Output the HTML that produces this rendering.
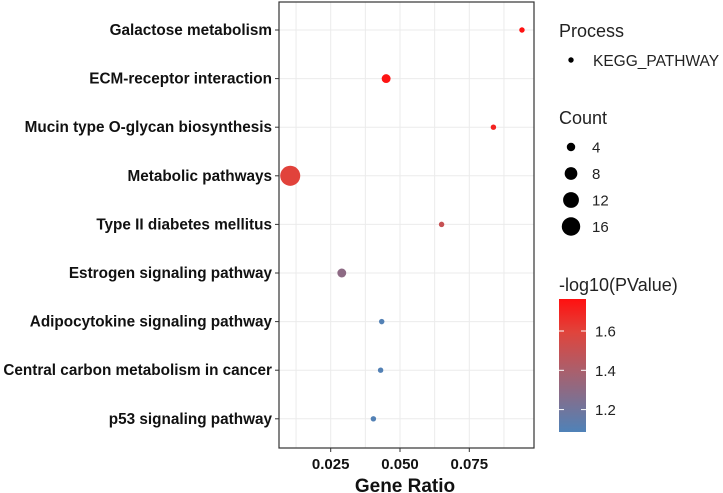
<!DOCTYPE html>
<html><head><meta charset="utf-8"><style>
body{margin:0;background:#fff;}
svg{display:block;font-family:"Liberation Sans",Arial,sans-serif;}
</style></head><body>
<svg id="chart" width="723" height="493" viewBox="0 0 723 493">
<defs><linearGradient id="cg" x1="0" y1="1" x2="0" y2="0">
<stop offset="0" stop-color="#4F82B8"/><stop offset="0.45" stop-color="#A8606E"/><stop offset="0.75" stop-color="#E0443C"/><stop offset="1" stop-color="#FF1010"/></linearGradient></defs>
<g id="grid"></g><g id="pts"></g><g id="axes"></g>
<g>
<text x="559" y="37" font-size="18" fill="#222">Process</text>
<circle cx="571" cy="60" r="2.7" fill="#000"/>
<text x="593" y="66" font-size="15.5" fill="#222">KEGG_PATHWAY</text>
<text x="559" y="124" font-size="18" fill="#222">Count</text>
<g id="sizeleg"></g>
<text x="559" y="291" font-size="18" fill="#222">-log10(PValue)</text>
<rect x="559" y="299" width="27" height="133" fill="url(#cg)"/>
<g id="cleg"></g>
</g>
</svg>
<script>
const categories=["Galactose metabolism","ECM-receptor interaction","Mucin type O-glycan biosynthesis","Metabolic pathways","Type II diabetes mellitus","Estrogen signaling pathway","Adipocytokine signaling pathway","Central carbon metabolism in cancer","p53 signaling pathway"];
const geneRatio=[0.094,0.045,0.0837,0.0104,0.065,0.029,0.0434,0.043,0.0404];
const counts=[2,4,2,17,2,4,2,2,2];
const pvals=[1.76,1.75,1.70,1.60,1.50,1.30,1.10,1.10,1.10];
const xTicks=[0.025,0.05,0.075];
const xTickLabels=["0.025","0.050","0.075"];
const sizeBreaks=[4,8,12,16];
const colorTicks=[1.2,1.4,1.6];
const NS="http://www.w3.org/2000/svg";
const L=279,R=534,T=2,B=448;
const x=v=>330.7+(v-0.025)*2772;
const y=i=>30+i*48.6;
const rad=c=>Math.sqrt(Math.max(6.2*c-5,3));
const cy=v=>331+(1.6-v)*196.5;
function col(v){const t=Math.max(0,Math.min(1,(v-1.088)/(1.763-1.088)));
const stops=[[0,[79,130,184]],[0.45,[168,96,110]],[0.75,[224,68,60]],[1,[255,16,16]]];
for(let k=1;k<stops.length;k++){if(t<=stops[k][0]){const a=stops[k-1],b=stops[k];const f=(t-a[0])/(b[0]-a[0]);
return "rgb("+a[1].map((c,j)=>Math.round(c+(b[1][j]-c)*f)).join(",")+")";}}return "rgb(255,16,16)";}
function mk(tag,attrs,parent,text){const e=document.createElementNS(NS,tag);for(const k in attrs)e.setAttribute(k,attrs[k]);if(text!==undefined)e.textContent=text;parent.appendChild(e);return e;}
const g=document.getElementById('grid'),p=document.getElementById('pts'),a=document.getElementById('axes');
mk('rect',{x:L,y:T,width:R-L,height:B-T,fill:'#fff'},g);
for(let v=0.0125;v<0.1;v+=0.0125){const px=x(v);if(px>L&&px<R){const l=mk('line',{x1:px,x2:px,y1:T,y2:B,stroke:'#ebebeb','stroke-width':1},g);

}}
categories.forEach((c,i)=>{const l=mk('line',{x1:L,x2:R,y1:y(i),y2:y(i),stroke:'#ebebeb','stroke-width':1},g);


const t=mk('text',{x:272,y:y(i)+5,'text-anchor':'end','font-size':15.3,'font-weight':'bold',fill:'#111'},a,c);


mk('line',{x1:275,x2:L,y1:y(i),y2:y(i),stroke:'#333'},a);
const d=mk('circle',{cx:x(geneRatio[i]),cy:y(i),r:rad(counts[i]),fill:col(pvals[i])},p);

});
mk('rect',{x:L,y:T,width:R-L,height:B-T,fill:'none',stroke:'#333','stroke-width':1.2},a);
xTicks.forEach((v,i)=>{mk('line',{x1:x(v),x2:x(v),y1:B,y2:B+4,stroke:'#333'},a);
const t=mk('text',{x:x(v),y:469,'text-anchor':'middle','font-size':15,'font-weight':'bold',fill:'#111'},a,xTickLabels[i]);

});
const xt=mk('text',{x:405,y:492,'text-anchor':'middle','font-size':19,'font-weight':'bold',fill:'#111'},a,'Gene Ratio');


const sl=document.getElementById('sizeleg');
sizeBreaks.forEach((s,i)=>{const yy=147+i*26.5;
const c=mk('circle',{cx:571,cy:yy,r:rad(s)*0.95,fill:'#000'},sl);


const t=mk('text',{x:592,y:yy+5.5,'font-size':15,fill:'#222'},sl,String(s));

});
const cl=document.getElementById('cleg');
colorTicks.forEach(v=>{const yy=cy(v);
mk('line',{x1:559,x2:564,y1:yy,y2:yy,stroke:'#fff'},cl);
mk('line',{x1:581,x2:586,y1:yy,y2:yy,stroke:'#fff'},cl);
const t=mk('text',{x:595,y:yy+5.5,'font-size':15,fill:'#222'},cl,v.toFixed(1));

});
</script>
</body></html>
